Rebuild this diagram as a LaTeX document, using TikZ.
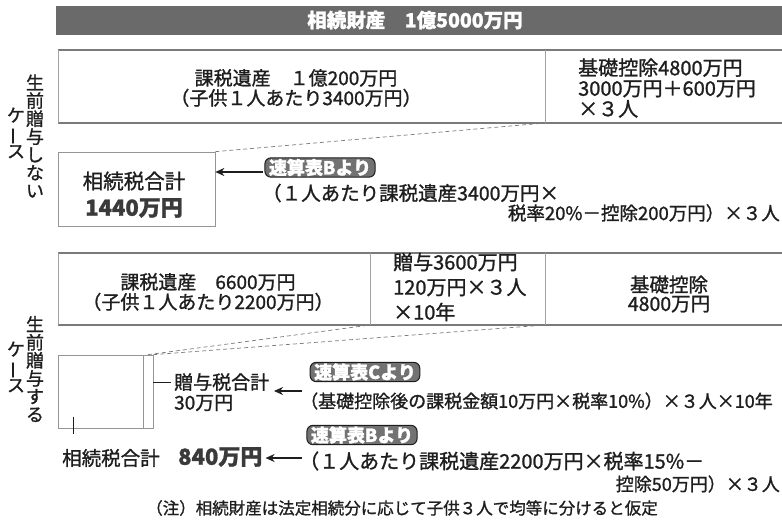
\documentclass[tikz,border=0pt]{standalone}
\usepackage{fontspec}
\setmainfont{Noto Sans CJK JP}[FakeBold=1.2]
\usetikzlibrary{arrows.meta}
\definecolor{ink}{HTML}{1E1E1E}
\definecolor{rule}{HTML}{7A7A7A}
\definecolor{hdr}{HTML}{6A6A6A}
\definecolor{badge}{HTML}{727272}
\definecolor{boldgray}{HTML}{3A3A3A}
\tikzset{
  boxline/.style={draw=rule, line width=1.3pt},
  sideline/.style={draw=rule!70, line width=0.6pt},
  txt/.style={inner sep=0pt, text=ink, font=\fontsize{18}{20}\selectfont},
  bigval/.style={inner sep=0pt, text=boldgray, font=\bfseries\fontsize{22}{24}\selectfont},
  badgebox/.style={rounded corners=6pt, fill=badge, draw=ink, line width=1pt, text=white,
    font=\bfseries\fontsize{18}{18}\selectfont, inner xsep=4pt, inner ysep=1pt},
  dashline/.style={draw=rule, dash pattern=on 4pt off 3pt, line width=0.7pt},
  arr/.style={draw=ink, line width=1.4pt, -{Stealth[length=9pt,width=8pt,fill=gray!45]}},
  conn/.style={draw=ink, line width=1pt},
  vlab/.style={inner sep=0pt, text=ink, align=center, font=\fontsize{18}{18}\selectfont},
}
\begin{document}
\begin{tikzpicture}[x=1pt,y=-1pt]
\useasboundingbox (0,0) rectangle (782,520);

% header bar
\node[fill=hdr, minimum width=726pt, minimum height=29pt, inner sep=0pt] (head) at (419,20.5) {};
\node[inner sep=0pt, text=white, font=\bfseries\fontsize{19.5}{20}\selectfont] (headt) at (415,20) {相続財産　1億5000万円};

% row 1 (no lifetime gift)
\draw[boxline] (58,50) -- (782,50);
\draw[boxline] (58,123) -- (782,123);
\draw[sideline] (58,50) -- (58,123);
\draw[sideline] (545,50) -- (545,123);
\coordinate (r1d) at (545,123);
\node[txt, align=center, font=\fontsize{19}{20}\selectfont] (tx1) at (296,88) {課税遺産　１億200万円\\（子供１人あたり3400万円）};
\node[txt, align=left, anchor=west, font=\fontsize{20}{20.5}\selectfont] (bk1) at (578,88) {基礎控除4800万円\\3000万円＋600万円\\×３人};

% tax box 1
\node[draw=rule!80, line width=0.7pt, minimum width=157pt, minimum height=74pt, inner sep=0pt] (tax1) at (136.5,189) {};
\node[txt, align=center, font=\fontsize{20.5}{20}\selectfont] (tax1t) at (134,181) {相続税合計};
\node[bigval] (tax1v) at (134,208) {1440万円};
\draw[dashline] (tax1.north east) -- (r1d);

\node[badgebox] (bB1) at (320,167.5) {速算表Bより};
\coordinate (a1s) at (263,172);
\draw[arr] (a1s) -- (tax1.east |- a1s);
\node[txt, anchor=west, font=\fontsize{19.5}{20}\selectfont] (ex1a) at (262,193) {（１人あたり課税遺産3400万円×};
\node[txt, anchor=east, font=\fontsize{18.5}{20}\selectfont] (ex1b) at (780,213) {税率20\%－控除200万円）×３人};

% row 2 (with lifetime gift)
\draw[boxline] (58,253) -- (782,253);
\draw[boxline] (58,325) -- (782,325);
\draw[sideline] (58,253) -- (58,325);
\draw[sideline] (370,253) -- (370,325);
\draw[sideline] (545,253) -- (545,325);
\coordinate (r2a) at (370,325);
\coordinate (r2b) at (545,325);
\node[txt, align=center, font=\fontsize{19}{20}\selectfont] (tx2) at (208,292) {課税遺産　6600万円\\（子供１人あたり2200万円）};
\node[txt, align=left, anchor=west, font=\fontsize{20}{25}\selectfont] (gift) at (393,287) {贈与3600万円\\120万円×３人\\×10年};
\node[txt, align=center, font=\fontsize{19.5}{19}\selectfont] (bk2) at (669,294) {基礎控除\\4800万円};

% small boxes
\node[draw=rule!80, line width=0.7pt, minimum width=85pt, minimum height=73pt, inner sep=0pt] (pre) at (100.5,391.5) {};
\node[draw=rule!80, line width=0.7pt, minimum width=10pt, minimum height=73pt, inner sep=0pt] (gt) at (148,391.5) {};
\draw[dashline] (gt.north) -- (r2a);
\draw[dashline] (gt.north east) -- (r2b);

\node[txt, anchor=west, font=\fontsize{19}{20}\selectfont] (gtl1) at (174,382) {贈与税合計};
\node[txt, anchor=west, font=\fontsize{19}{20}\selectfont] (gtl2) at (174,403) {30万円};
\draw[conn] (gt.east |- gtl1.west) -- ([xshift=-3pt]gtl1.west);

\node[badgebox] (bC) at (365,372) {速算表Cより};
\coordinate (a2s) at (302,391);
\coordinate (a2e) at (274,391);
\draw[arr] (a2s) -- (a2e);
\node[txt, anchor=west] (ex2) at (300,401) {（基礎控除後の課税金額10万円×税率10\%）×３人×10年};

% inheritance tax 840
\node[txt, anchor=west, font=\fontsize{19.5}{20}\selectfont] (inh2) at (62,458) {相続税合計};
\node[bigval, anchor=west] (inh2v) at (178,457) {840万円};
\coordinate (tk) at (73,434);
\coordinate (tk0) at (73,417);
\draw[conn] (tk0) -- (tk);

\node[badgebox] (bB2) at (362,435) {速算表Bより};
\coordinate (a3s) at (302,458);
\draw[arr] (a3s) -- ([xshift=3pt]inh2v.east |- a3s);
\node[txt, anchor=west, font=\fontsize{20}{20}\selectfont] (ex3a) at (299,461) {（１人あたり課税遺産2200万円×税率15\%－};
\node[txt, anchor=east] (ex3b) at (780,484) {控除50万円）×３人};

% vertical labels
\node[vlab] (v1) at (35,136) {生\\前\\贈\\与\\し\\な\\い};
\node[vlab] (v1k) at (16,133) {ケ\\\rotatebox[origin=c]{90}{ー}\\ス};
\node[vlab] (v2) at (35,369) {生\\前\\贈\\与\\す\\る};
\node[vlab] (v2k) at (16,367) {ケ\\\rotatebox[origin=c]{90}{ー}\\ス};

% note
\node[txt, font=\fontsize{16.5}{17}\selectfont] (note) at (402,508) {（注）相続財産は法定相続分に応じて子供３人で均等に分けると仮定};
\end{tikzpicture}
\end{document}
